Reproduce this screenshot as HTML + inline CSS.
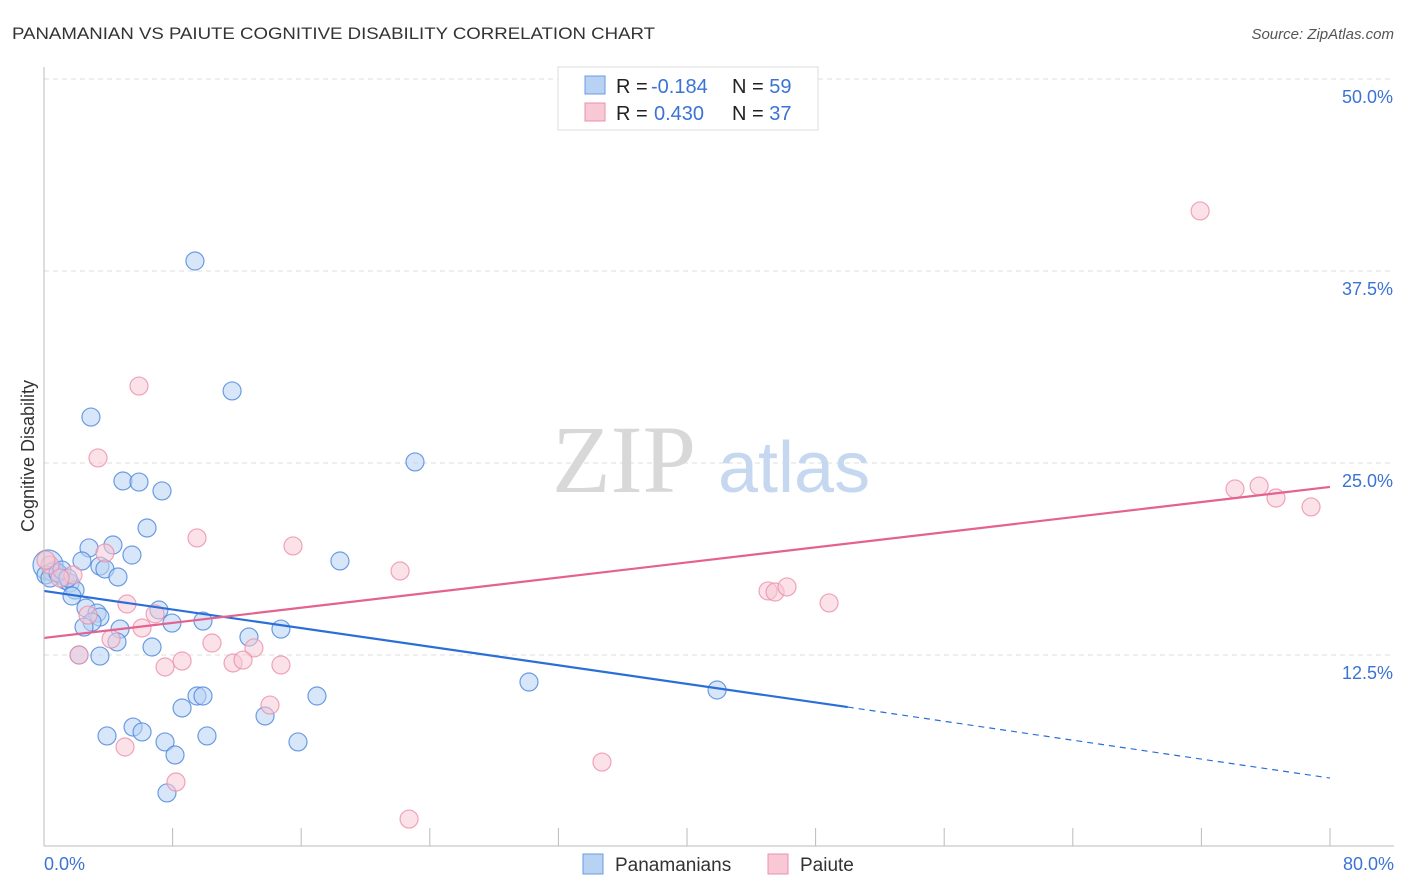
<!DOCTYPE html>
<html><head><meta charset="utf-8"><style>
body{margin:0;background:#fff;font-family:"Liberation Sans",sans-serif;}
svg{display:block}
</style></head><body>
<svg id="chart" width="1406" height="892" xmlns="http://www.w3.org/2000/svg">
<text x="12" y="39" font-size="17" fill="#333" textLength="643" lengthAdjust="spacingAndGlyphs">PANAMANIAN VS PAIUTE COGNITIVE DISABILITY CORRELATION CHART</text>
<text x="1394" y="39" font-size="15" fill="#555" font-style="italic" text-anchor="end">Source: ZipAtlas.com</text>
<g id="grid"></g>
<g>
<text x="552" y="492" font-family="Liberation Serif,serif" font-size="96" fill="#d8d8d8">ZIP</text>
<text x="718" y="492" font-size="72" fill="#c5d8f0">atlas</text>
</g>
<g id="pts"></g>
<g id="lines"></g>
<line x1="44" y1="67" x2="44" y2="846" stroke="#bbb"/>
<line x1="44" y1="846" x2="1394" y2="846" stroke="#bbb"/>
<g id="axes"></g>
<text x="34" y="456" font-size="18" fill="#333" text-anchor="middle" transform="rotate(-90 34 456)">Cognitive Disability</text>
<text x="44" y="870" font-size="18" fill="#3b73d4">0.0%</text>
<text x="1394" y="870" font-size="18" fill="#3b73d4" text-anchor="end">80.0%</text>
<g>
<rect x="558" y="67" width="260" height="63" fill="#fff" stroke="#ddd"/>
<rect x="585" y="76" width="20" height="18" fill="#b8d2f4" stroke="#6a9be0"/>
<rect x="585" y="103" width="20" height="18" fill="#f8c8d6" stroke="#ec8fab"/>
<text x="616" y="93" font-size="20" fill="#222">R = <tspan fill="#3b73d4" x="651">-0.184</tspan><tspan x="732">N = </tspan><tspan fill="#3b73d4">59</tspan></text>
<text x="616" y="120" font-size="20" fill="#222">R = <tspan fill="#3b73d4" x="654">0.430</tspan><tspan x="732">N = </tspan><tspan fill="#3b73d4">37</tspan></text>
</g>
<g>
<rect x="583" y="854" width="20" height="20" fill="#b8d2f4" stroke="#6a9be0"/>
<text x="615" y="871" font-size="19" fill="#333">Panamanians</text>
<rect x="768" y="854" width="20" height="20" fill="#f8c8d6" stroke="#ec8fab"/>
<text x="800" y="871" font-size="19" fill="#333">Paiute</text>
</g>
</svg>
<script>
const yTicks=[12.5,25,37.5,50];
const yTickLabels=["12.5%","25.0%","37.5%","50.0%"];
const xTicks=[0,8,16,24,32,40,48,56,64,72,80];
const blueX=[9.39,11.70,2.92,23.08,4.91,5.91,7.34,6.41,4.29,2.80,5.47,2.36,3.48,3.79,4.60,0.68,1.00,1.31,1.62,1.93,1.74,2.61,3.30,3.48,2.99,2.49,7.15,7.96,9.89,4.73,4.54,6.72,12.75,14.74,18.41,2.18,3.48,9.52,9.89,16.98,8.59,13.75,30.17,41.87,5.54,6.10,3.92,7.53,10.14,15.80,8.15,7.65,0.25,0.50,0.12,0.37,0.87,1.12,1.49];
const blueY=[38.15,29.69,27.99,25.07,23.83,23.76,23.18,20.77,19.66,19.47,19.01,18.62,18.29,18.10,17.58,18.03,17.71,17.38,17.19,16.73,16.34,15.56,15.23,14.97,14.65,14.32,15.43,14.58,14.71,14.19,13.35,13.02,13.67,14.19,18.62,12.50,12.43,9.83,9.83,9.83,9.05,8.53,10.74,10.22,7.81,7.49,7.23,6.84,7.23,6.84,5.99,3.52,18.36,17.90,17.71,17.51,17.84,18.03,17.51];
const pinkX=[71.92,5.91,3.36,9.52,15.49,3.79,22.15,1.80,45.04,45.48,46.22,48.84,5.16,6.91,6.10,4.17,10.45,13.06,8.59,7.53,11.76,12.38,14.74,14.06,5.04,8.21,22.71,34.71,74.09,75.59,76.64,78.82,2.18,0.37,1.00,2.74,0.12];
const pinkY=[41.41,30.01,25.33,20.12,19.60,19.14,17.97,17.71,16.67,16.60,16.93,15.89,15.82,15.17,14.26,13.54,13.28,12.96,12.11,11.72,11.98,12.17,11.85,9.24,6.51,4.23,1.82,5.53,23.31,23.50,22.72,22.14,12.50,18.36,17.51,15.10,18.68];
const blueLine=[16.67,9.11,4.49];
const blueLineX=[0,50,80];
const pinkLine=[13.61,23.44];
const pinkLineX=[0,80];
const NS="http://www.w3.org/2000/svg";
const sx=v=>44+v/80*1286;
const sy=v=>847-v/50*768;
function mk(tag,attrs,parent){const e=document.createElementNS(NS,tag);for(const k in attrs)e.setAttribute(k,attrs[k]);parent.appendChild(e);return e;}
const grid=document.getElementById('grid'),axes=document.getElementById('axes'),pts=document.getElementById('pts'),lines=document.getElementById('lines');
yTicks.forEach((t,i)=>{
 const l=mk('line',{x1:44,x2:1394,y1:sy(t),y2:sy(t),stroke:'#ddd','stroke-dasharray':'5,4'},grid);
 
 
 const tx=mk('text',{x:1393,y:sy(t)+24,'font-size':18,fill:'#3b73d4','text-anchor':'end'},axes);
 tx.textContent=yTickLabels[i];
 
 
});
xTicks.forEach(t=>{
 const l=mk('line',{x1:sx(t),x2:sx(t),y1:828,y2:846,stroke:'#bbb'},axes);
 
 
});
function dot(x,y,r,fill,stroke,name){
 const c=mk('circle',{cx:sx(x),cy:sy(y),r:r,fill:fill,'fill-opacity':0.55,stroke:stroke,'stroke-opacity':0.8,'stroke-width':1.2},pts);
 
 
}
blueX.forEach((x,i)=>dot(x,blueY[i],i===52?15:9,'#b8d2f4','#4a86dc','panamanian-point'));
pinkX.forEach((x,i)=>dot(x,pinkY[i],9,'#f8c8d6','#ec8fab','paiute-point'));
const bs=mk('line',{x1:sx(blueLineX[0]),y1:sy(blueLine[0]),x2:sx(blueLineX[1]),y2:sy(blueLine[1]),stroke:'#2a6fd8','stroke-width':2.2},lines);


const bd=mk('line',{x1:sx(blueLineX[1]),y1:sy(blueLine[1]),x2:sx(blueLineX[2]),y2:sy(blueLine[2]),stroke:'#2a6fd8','stroke-width':1.2,'stroke-dasharray':'6,5'},lines);


const pl=mk('line',{x1:sx(pinkLineX[0]),y1:sy(pinkLine[0]),x2:sx(pinkLineX[1]),y2:sy(pinkLine[1]),stroke:'#e4628f','stroke-width':2.2},lines);


</script>
</body></html>
